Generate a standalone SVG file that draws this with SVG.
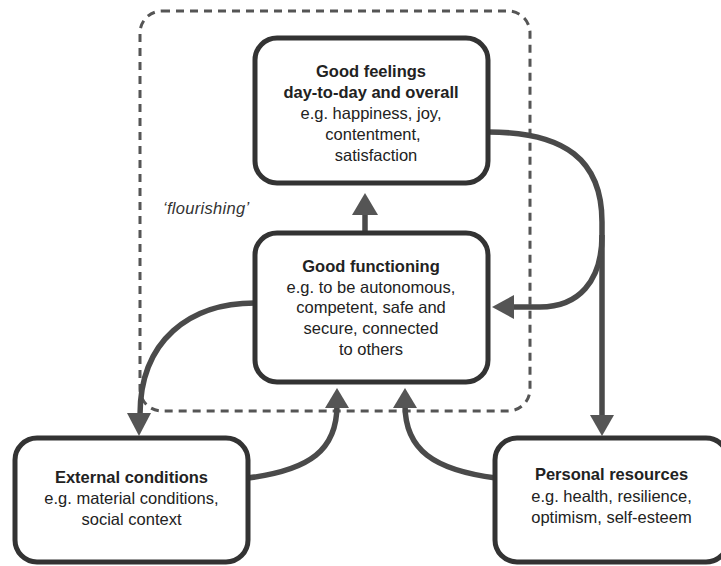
<svg xmlns="http://www.w3.org/2000/svg" width="721" height="566" viewBox="0 0 721 566">
<style>
.box{fill:#fff;stroke:#333;stroke-width:5}
.t{font-family:"Liberation Sans",Arial,sans-serif;font-size:16.5px;fill:#222;text-anchor:middle}
.b{font-weight:bold}
.con{fill:none;stroke:#4a4a4a;stroke-width:5.5}
.head{fill:#555}
.dash{fill:none;stroke:#555;stroke-width:3;stroke-dasharray:8 6}
</style>
<rect width="721" height="566" fill="#fff"/>
<rect class="dash" x="140" y="11" width="390" height="400" rx="22"/>
<text x="163" y="214" font-family="'Liberation Sans',Arial,sans-serif" font-size="16.5" font-style="italic" letter-spacing="0.3" fill="#333">‘flourishing’</text>
<g id="connectors">
  <path class="con" d="M365 233 L365 212"/>
  <polygon class="head" points="365,193 352,215 378,215"/>
  <path class="con" d="M488 132 C565 132 602 160 602 222 L602 418"/>
  <polygon class="head" points="602,436 590,415 614,415"/>
  <path class="con" d="M602 235 C602 282 578 307 540 307 L510 307"/>
  <polygon class="head" points="492,307 514,295 514,319"/>
  <path class="con" d="M255 303 C190 303 140 340 140 415"/>
  <polygon class="head" points="139,436 127,413 151,413"/>
  <path class="con" d="M248 478 C310 470 337 450 337 405"/>
  <polygon class="head" points="337,388 325,408 349,408"/>
  <path class="con" d="M496 478 C434 470 405 450 405 405"/>
  <polygon class="head" points="405,388 393,408 417,408"/>
</g>
<g id="good-feelings">
  <rect class="box" x="255" y="38" width="233" height="145" rx="22"/>
  <text class="t b" x="371" y="77">Good feelings</text>
  <text class="t b" x="371" y="98">day-to-day and overall</text>
  <text class="t" x="371" y="119">e.g. happiness, joy,</text>
  <text class="t" x="373" y="140">contentment,</text>
  <text class="t" x="376" y="161">satisfaction</text>
</g>
<g id="good-functioning">
  <rect class="box" x="255" y="233" width="233" height="149" rx="22"/>
  <text class="t b" x="371" y="272">Good functioning</text>
  <text class="t" x="371" y="293">e.g. to be autonomous,</text>
  <text class="t" x="371" y="313">competent, safe and</text>
  <text class="t" x="371" y="334">secure, connected</text>
  <text class="t" x="371" y="355">to others</text>
</g>
<g id="external-conditions">
  <rect class="box" x="15" y="438" width="233" height="124" rx="22"/>
  <text class="t b" x="131.5" y="483">External conditions</text>
  <text class="t" x="131.5" y="504">e.g. material conditions,</text>
  <text class="t" x="131.5" y="525">social context</text>
</g>
<g id="personal-resources">
  <rect class="box" x="495" y="438" width="233" height="124" rx="22"/>
  <text class="t b" x="611.5" y="480">Personal resources</text>
  <text class="t" x="611.5" y="502">e.g. health, resilience,</text>
  <text class="t" x="611.5" y="523">optimism, self-esteem</text>
</g>
</svg>
